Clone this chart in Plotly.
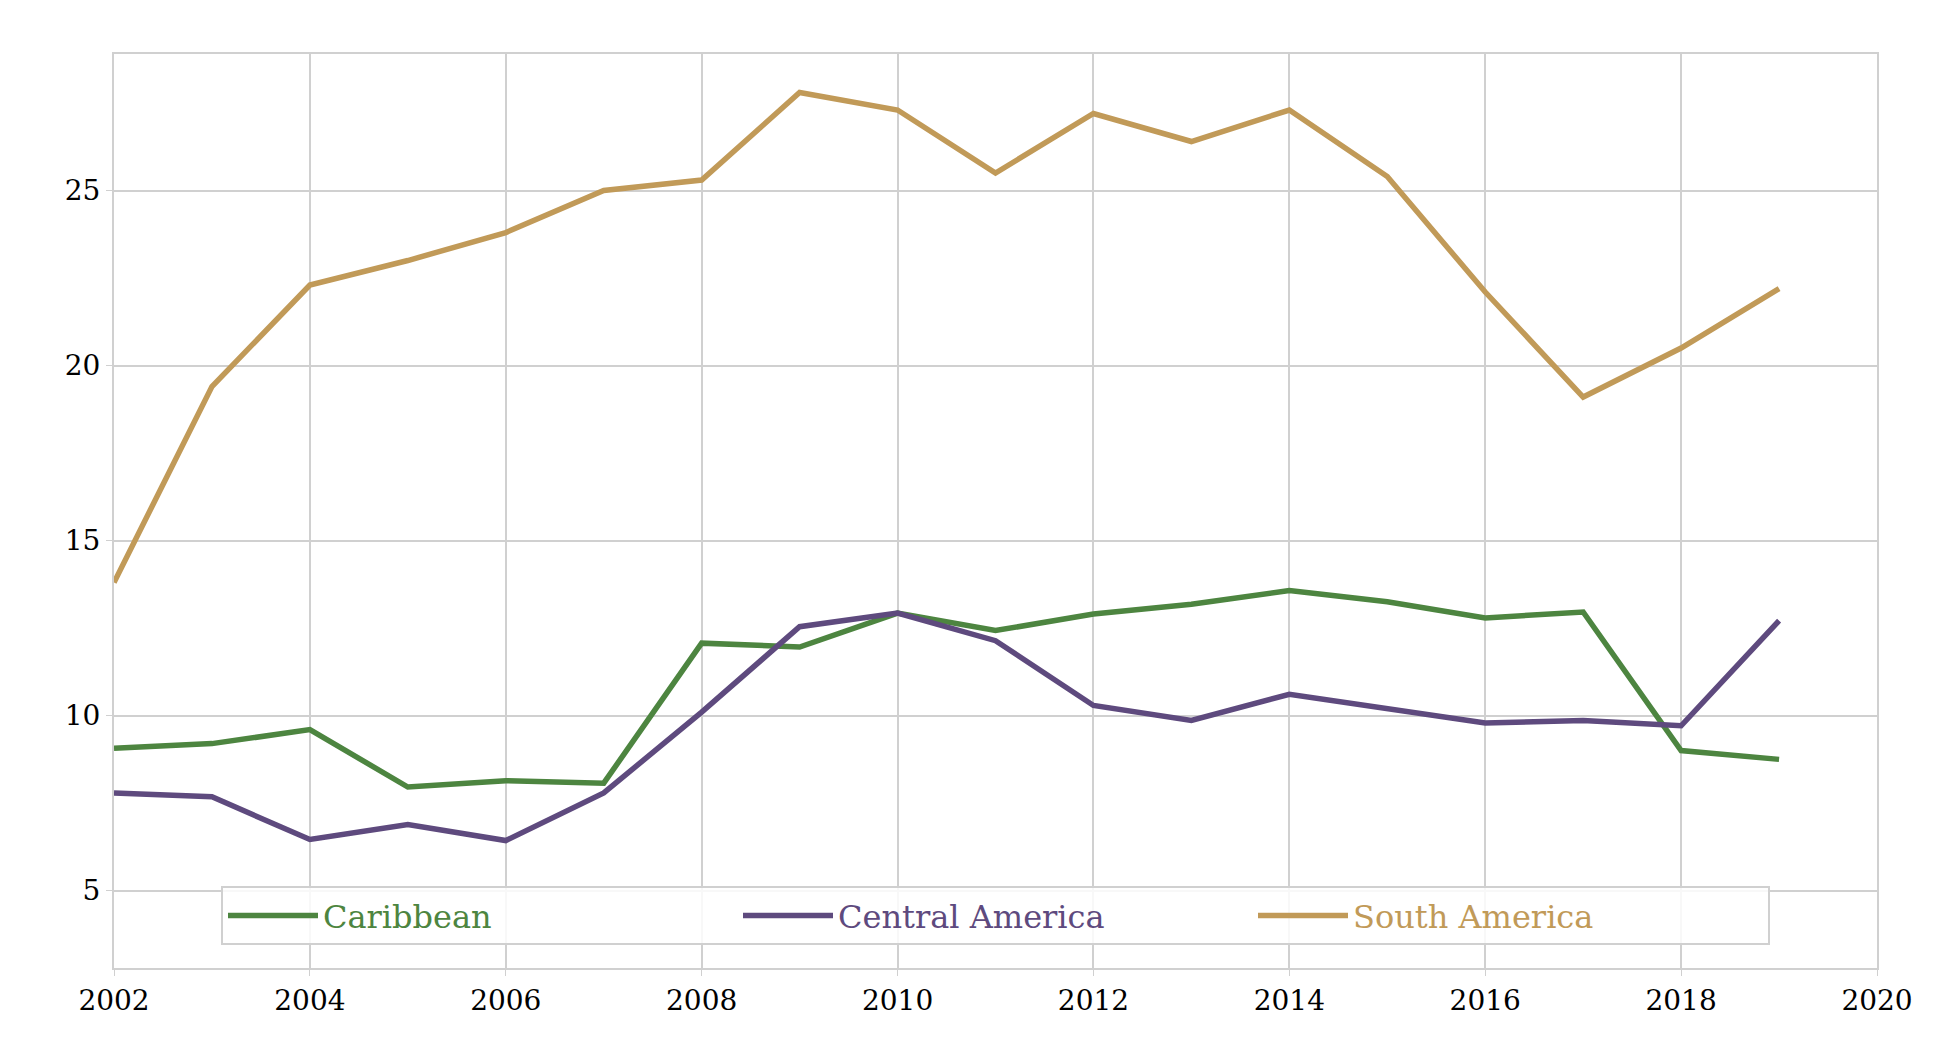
import plotly.graph_objects as go

years = list(range(2002, 2020))
caribbean = [9.07, 9.2, 9.6, 7.96, 8.14, 8.07, 12.07, 11.96, 12.93, 12.43, 12.9, 13.18, 13.57, 13.25, 12.79, 12.96, 9.0, 8.75]
central_america = [7.79, 7.68, 6.46, 6.89, 6.43, 7.79, 10.1, 12.54, 12.93, 12.14, 10.29, 9.86, 10.61, 10.21, 9.79, 9.86, 9.71, 12.71]
south_america = [13.8, 19.4, 22.3, 23.0, 23.8, 25.0, 25.3, 27.8, 27.3, 25.5, 27.2, 26.4, 27.3, 25.4, 22.1, 19.1, 20.5, 22.2]

series = [("Caribbean", caribbean, "#4d8540"),
          ("Central America", central_america, "#5e4a7e"),
          ("South America", south_america, "#c19a58")]

fig = go.Figure()
for name, vals, col in series:
    fig.add_trace(go.Scatter(x=years, y=vals, mode="lines",
                             name=f"<span style='color:{col}'>{name}</span>",
                             line=dict(color=col, width=5.5)))

axis = dict(showline=True, linecolor="#d0d0d0", linewidth=2, mirror=True,
            gridcolor="#d0d0d0", gridwidth=2, zeroline=False,
            ticks="outside", tickcolor="#d0d0d0", ticklen=6,
            tickfont=dict(size=28, color="black"))
fig.update_xaxes(range=[2002, 2020], dtick=2, **axis)
fig.update_yaxes(range=[2.79, 28.9], tickvals=[5, 10, 15, 20, 25], **axis)
fig.update_layout(
    width=1950, height=1050,
    margin=dict(l=106, r=81, t=46, b=90),
    paper_bgcolor="white", plot_bgcolor="white",
    font=dict(family="DejaVu Serif", color="black"),
    legend=dict(orientation="h", x=0.5, xanchor="center", y=0.025, yanchor="bottom",
                bgcolor="rgba(255,255,255,0.85)", bordercolor="#d0d0d0", borderwidth=2,
                font=dict(size=32), itemwidth=90, entrywidth=410),
)
fig.write_html("out.html")
